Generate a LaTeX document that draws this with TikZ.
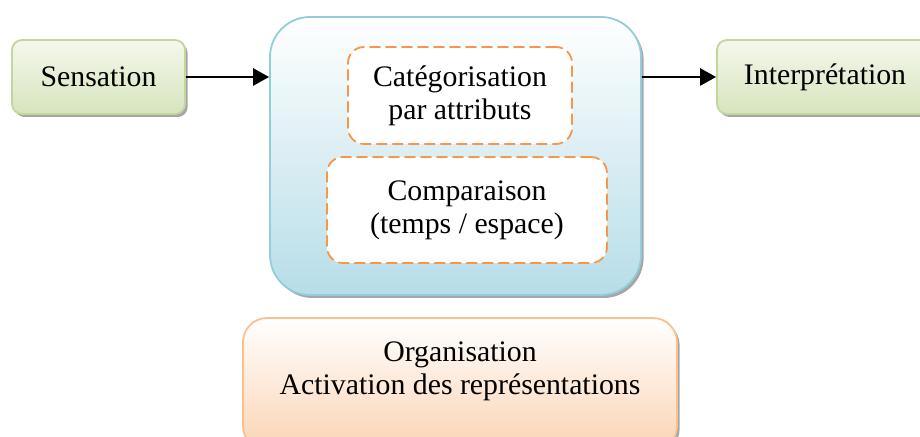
\documentclass[tikz,border=0pt]{standalone}
\usepackage{fontspec}
\setmainfont{Liberation Serif}
\usepackage{tikz}
\usetikzlibrary{arrows.meta}
\usetikzlibrary{shadows}
\usetikzlibrary{positioning}

\definecolor{vertbord}{HTML}{C3D69B}
\definecolor{verthaut}{HTML}{F4F8EC}
\definecolor{vertbas}{HTML}{D7E4BD}
\definecolor{bleubord}{HTML}{92CDDC}
\definecolor{bleubas}{HTML}{B7DDE8}
\definecolor{orangetir}{HTML}{F79646}
\definecolor{pechebord}{HTML}{FAC090}
\definecolor{pechebas}{HTML}{FBD4B4}

\tikzset{
  ombre/.style={drop shadow={shadow xshift=1.3pt,shadow yshift=-1.5pt,fill=black!35,opacity=1}},
  etape/.style={draw=vertbord,line width=0.9pt,rounded corners=5pt,top color=verthaut,bottom color=vertbas,
    minimum width=86.5pt,minimum height=37pt,ombre},
  bloc/.style={draw=bleubord,line width=0.9pt,rounded corners=20pt,top color=white,bottom color=bleubas,
    minimum width=185.5pt,minimum height=139pt,ombre},
  sousbloc/.style={draw=orangetir,fill=white,line width=0.9pt,dash pattern=on 5pt off 3pt,rounded corners=8pt,align=center},
  orgbloc/.style={draw=pechebord,line width=0.9pt,rounded corners=12pt,top color=white,bottom color=pechebas,
    minimum width=217pt,minimum height=66pt,ombre},
  fleche/.style={-{Triangle[length=8pt,width=8.5pt]},line width=1.3pt,line cap=butt}
}

\begin{document}
\begin{tikzpicture}[line cap=round,line join=round,x=0.5pt,y=0.5pt,
  every node/.append style={font=\fontsize{14.9}{16.5}\selectfont}]
\useasboundingbox (0,0) rectangle (920,437);
\clip (0,0) rectangle (920,437);
% boites principales
\node[etape] (sens) at (98.5,360) {Sensation};
\node[bloc] (centre) at (455.5,281) {};
\node[sousbloc,minimum width=112pt,minimum height=48.5pt] (categ) at (460,341.5) {Catégorisation\\par attributs};
\node[sousbloc,minimum width=140pt,minimum height=53pt] (compar) at (467,227) {Comparaison\\(temps / espace)};
\node[etape,minimum width=108pt] (interp) at (825,360) {Interprétation};
% organisation
\node[orgbloc] (orga) at (460,53) {};
\node[align=center] (orgatxt) at (460,65.5) {Organisation\\Activation des représentations};
% fleches
\draw[fleche] (sens.east) -- (centre.west |- sens.east);
\draw[fleche] (centre.east |- interp.west) -- (interp.west);
\end{tikzpicture}
\end{document}
